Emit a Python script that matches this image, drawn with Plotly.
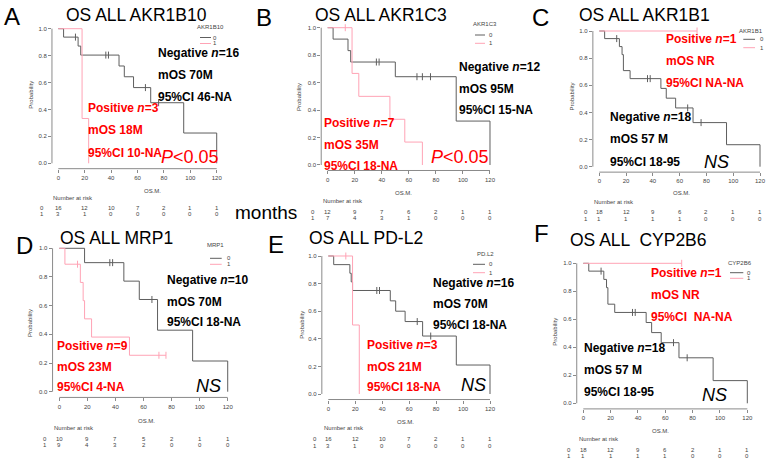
import plotly.graph_objects as go

W, H = 773, 465

# ------------------------------------------------------------------ data
risk_times = [0, 20, 40, 60, 80, 100, 120]
x_ticks = [0, 20, 40, 60, 80, 100, 120]
y_ticks = [0.0, 0.2, 0.4, 0.6, 0.8, 1.0]

# Panel A  AKR1B10
A_neg_t = [0, 4, 15, 17, 46, 50, 57, 70, 95, 120]
A_neg_s = [1.0, 0.9375, 0.871, 0.804, 0.723, 0.643, 0.5625, 0.45, 0.225, 0.0]
A_neg_c = [13, 36, 38, 66, 76]
A_pos_t = [0, 18, 23]
A_pos_s = [1.0, 0.333, 0.0]
A_pos_c = []
A_risk0 = [16, 12, 10, 7, 2, 1, 1]
A_risk1 = [3, 1, 0, 0, 0, 0, 0]

# Panel B  AKR1C3
B_neg_t = [0, 4, 15, 17, 50, 95, 120]
B_neg_s = [1.0, 0.917, 0.833, 0.75, 0.643, 0.32, 0.0]
B_neg_c = [36, 38, 66, 70, 76]
B_pos_t = [0, 18, 23, 46, 57, 70]
B_pos_s = [1.0, 0.667, 0.5, 0.333, 0.167, 0.0]
B_pos_c = [13]
B_risk0 = [12, 9, 7, 6, 2, 1, 1]
B_risk1 = [7, 4, 3, 1, 0, 0, 0]

# Panel C  AKR1B1
C_neg_t = [0, 4, 15, 17, 18, 23, 46, 50, 57, 70, 95, 120]
C_neg_s = [1.0, 0.944, 0.885, 0.826, 0.708, 0.649, 0.577, 0.505, 0.433, 0.325, 0.162, 0.0]
C_neg_c = [13, 36, 38, 66, 76]
C_pos_t = [0, 73]
C_pos_s = [1.0, 1.0]
C_pos_c = [73]
C_risk0 = [18, 12, 9, 6, 2, 1, 1]
C_risk1 = [1, 1, 1, 1, 0, 0, 0]

# Panel D  MRP1
D_neg_t = [0, 18, 46, 57, 70, 95, 120]
D_neg_s = [1.0, 0.9, 0.771, 0.643, 0.429, 0.214, 0.0]
D_neg_c = [36, 38, 66]
D_pos_t = [0, 4, 15, 17, 18, 23, 50, 76]
D_pos_s = [1.0, 0.889, 0.762, 0.635, 0.508, 0.381, 0.254, 0.254]
D_pos_c = [13, 71, 76]
D_risk0 = [10, 9, 7, 5, 2, 1, 1]
D_risk1 = [9, 4, 3, 2, 0, 0, 0]

# Panel E  PD-L2
E_neg_t = [0, 4, 16, 17, 18, 46, 50, 57, 70, 95, 120]
E_neg_s = [1.0, 0.9375, 0.875, 0.8125, 0.75, 0.675, 0.6, 0.525, 0.42, 0.21, 0.0]
E_neg_c = [36, 38, 66, 76]
E_pos_t = [0, 18, 23]
E_pos_s = [1.0, 0.5, 0.0]
E_pos_c = [13]
E_risk0 = [16, 12, 10, 7, 2, 1, 1]
E_risk1 = [3, 1, 0, 0, 0, 0, 0]

# Panel F  CYP2B6
F_neg_t = [0, 4, 15, 17, 18, 23, 46, 50, 57, 70, 95, 120]
F_neg_s = [1.0, 0.944, 0.885, 0.826, 0.708, 0.649, 0.577, 0.505, 0.433, 0.325, 0.162, 0.0]
F_neg_c = [13, 36, 38, 66, 76]
F_pos_t = [0, 72]
F_pos_s = [1.0, 1.0]
F_pos_c = [72]
F_risk0 = [18, 12, 9, 6, 2, 1, 1]
F_risk1 = [1, 1, 1, 1, 0, 0, 0]

titles = ["OS ALL AKR1B10", "OS ALL AKR1C3", "OS ALL AKR1B1",
          "OS ALL MRP1", "OS ALL PD-L2", "OS ALL \u00a0CYP2B6"]
letters = ["A", "B", "C", "D", "E", "F"]
legend_titles = ["AKR1B10", "AKR1C3", "AKR1B1", "MRP1", "PD.L2", "CYP2B6"]

A_neg_txt = ["Negative <i>n</i>=16", "mOS 70M", "95%CI 46-NA"]
A_pos_txt = ["Positive <i>n</i>=3", "mOS 18M", "95%CI 10-NA"]
B_neg_txt = ["Negative <i>n</i>=12", "mOS 95M", "95%CI 15-NA"]
B_pos_txt = ["Positive <i>n</i>=7", "mOS 35M", "95%CI 18-NA"]
C_neg_txt = ["Negative <i>n</i>=18", "mOS 57 M", "95%CI 18-95"]
C_pos_txt = ["Positive <i>n</i>=1", "mOS NR", "95%CI NA-NA"]
D_neg_txt = ["Negative <i>n</i>=10", "mOS 70M", "95%CI 18-NA"]
D_pos_txt = ["Positive <i>n</i>=9", "mOS 23M", "95%CI 4-NA"]
E_neg_txt = ["Negative <i>n</i>=16", "mOS 70M", "95%CI 18-NA"]
E_pos_txt = ["Positive <i>n</i>=3", "mOS 21M", "95%CI 18-NA"]
F_neg_txt = ["Negative <i>n</i>=18", "mOS 57 M", "95%CI 18-95"]
F_pos_txt = ["Positive <i>n</i>=1", "mOS NR", "95%CI \u00a0NA-NA"]
p_texts = ["<i>P</i>&lt;0.05", "<i>P</i>&lt;0.05", "<i>NS</i>", "<i>NS</i>", "<i>NS</i>", "<i>NS</i>"]

# ------------------------------------------------------------------ layout (pixels)
FONT = "Liberation Sans, Arial, sans-serif"
GRAY = "#5e5e5e"
PINK = "#ffa3b5"
AXC = "#8a8a8a"
TXT = "#444444"

panels = [
    dict(neg=(A_neg_t, A_neg_s, A_neg_c), pos=(A_pos_t, A_pos_s, A_pos_c), r0=A_risk0, r1=A_risk1,
         negtxt=A_neg_txt, postxt=A_pos_txt,
         g=dict(x0=58.3, x120=216.7, y1=28.7, y0=163.3),
         letter=(12, 16), title=(136, 15), negpos=(157, [53.3, 75, 96.7]), pospos=(86.7, [108.3, 130, 152.7]),
         ppos=(160, 157.3), leg=(211, 27, 200, 211, 215, 37.5, 43.5),
         osm=(152.7, 191), prob=(30.7, 95), nar=(51.7, 197.7), rows=(41.7, 208.3, 213.7)),
    dict(neg=(B_neg_t, B_neg_s, B_neg_c), pos=(B_pos_t, B_pos_s, B_pos_c), r0=B_risk0, r1=B_risk1,
         negtxt=B_neg_txt, postxt=B_pos_txt,
         g=dict(x0=327.7, x120=490, y1=27.7, y0=165),
         letter=(264, 17), title=(381, 15), negpos=(458.3, [66.7, 89.3, 110]), pospos=(323.3, [123.3, 145, 165.7]),
         ppos=(430, 157.3), leg=(485, 24, 475, 485, 491, 35, 43.3),
         osm=(403.3, 193.3), prob=(298.3, 96.7), nar=(321.7, 201), rows=(313.3, 211.7, 218.3)),
    dict(neg=(C_neg_t, C_neg_s, C_neg_c), pos=(C_pos_t, C_pos_s, C_pos_c), r0=C_risk0, r1=C_risk1,
         negtxt=C_neg_txt, postxt=C_pos_txt,
         g=dict(x0=599.3, x120=760, y1=31, y0=166.7),
         letter=(540, 18), title=(644, 15), negpos=(609.3, [117.3, 139.3, 162.3]), pospos=(665, [39.3, 61, 82.7]),
         ppos=(702.7, 162.3), leg=(750.7, 30.7, 743.3, 755, 761.7, 39.3, 47.7),
         osm=(681.7, 193.3), prob=(571.7, 96.7), nar=(593.3, 201.7), rows=(586, 212.3, 219)),
    dict(neg=(D_neg_t, D_neg_s, D_neg_c), pos=(D_pos_t, D_pos_s, D_pos_c), r0=D_risk0, r1=D_risk1,
         negtxt=D_neg_txt, postxt=D_pos_txt,
         g=dict(x0=59.3, x120=227.7, y1=248.3, y0=391.7),
         letter=(24, 245), title=(117, 238), negpos=(166, [280, 301.7, 321.7]), pospos=(56, [345.7, 366.7, 387.3]),
         ppos=(195, 386), leg=(215, 245, 210, 221.7, 229.3, 258.3, 264.3),
         osm=(146.7, 420.7), prob=(30.7, 323.3), nar=(53.3, 427.7), rows=(45, 439.3, 445)),
    dict(neg=(E_neg_t, E_neg_s, E_neg_c), pos=(E_pos_t, E_pos_s, E_pos_c), r0=E_risk0, r1=E_risk1,
         negtxt=E_neg_txt, postxt=E_pos_txt,
         g=dict(x0=328.3, x120=490, y1=256, y0=394),
         letter=(276, 244), title=(366, 238), negpos=(431.7, [282.7, 304, 325]), pospos=(366, [345, 366.7, 386.7]),
         ppos=(460, 385), leg=(485, 254, 473, 485, 491, 264.3, 272.7),
         osm=(405, 421.7), prob=(301.7, 325), nar=(323.3, 427.7), rows=(315, 439.3, 445.7)),
    dict(neg=(F_neg_t, F_neg_s, F_neg_c), pos=(F_pos_t, F_pos_s, F_pos_c), r0=F_risk0, r1=F_risk1,
         negtxt=F_neg_txt, postxt=F_pos_txt,
         g=dict(x0=583.3, x120=747.3, y1=263.3, y0=403.3),
         letter=(541, 234), title=(638, 240), negpos=(582.7, [348.3, 370, 392.3]), pospos=(650, [272.7, 295, 317.3]),
         ppos=(700.7, 395), leg=(740, 263.3, 730, 743.3, 749.3, 272.7, 278.3),
         osm=(660, 431), prob=(555, 331.7), nar=(578.3, 439.3), rows=(569.3, 450, 456)),
]


def px(x):
    return x / W


def py(y):
    return 1 - y / H


def step_at(t, times, surv):
    v = surv[0]
    for tt, ss in zip(times, surv):
        if tt <= t:
            v = ss
    return v


fig = go.Figure()
annotations = []
shapes = []
layout = dict(width=W, height=H, autosize=False, margin=dict(l=0, r=0, t=0, b=0),
              paper_bgcolor="white", plot_bgcolor="rgba(0,0,0,0)", showlegend=False,
              font=dict(family=FONT))


def ann(x, y, text, size, color="black", xanchor="left", **kw):
    d = dict(x=px(x), y=py(y), xref="paper", yref="paper", text=text, showarrow=False,
             font=dict(size=size, color=color, family=FONT), xanchor=xanchor, yanchor="middle",
             borderpad=0)
    d.update(kw)
    annotations.append(d)


for i, p in enumerate(panels):
    k = i + 1
    xa = "x" if k == 1 else f"x{k}"
    ya = "y" if k == 1 else f"y{k}"
    g = p["g"]
    sx = (g["x120"] - g["x0"]) / 120.0
    sy = (g["y0"] - g["y1"])
    xdom = [px(g["x0"] - 4.8 * sx), px(g["x120"] + 4.8 * sx)]
    ydom = [py(g["y0"] + 0.04 * sy), py(g["y1"] - 0.04 * sy)]
    axis_common = dict(showgrid=False, zeroline=False, showline=False, ticks="outside",
                       ticklen=3, tickwidth=1, tickcolor=AXC,
                       tickfont=dict(size=6, color=TXT, family=FONT), fixedrange=True)
    layout["xaxis" if k == 1 else f"xaxis{k}"] = dict(
        domain=xdom, range=[-4.8, 124.8], anchor=ya, tickmode="array", tickvals=x_ticks, **axis_common)
    layout["yaxis" if k == 1 else f"yaxis{k}"] = dict(
        domain=ydom, range=[-0.04, 1.04], anchor=xa, tickmode="array", tickvals=y_ticks,
        tickformat=".1f", **axis_common)
    # axis lines spanning tick range (R style)
    shapes.append(dict(type="line", xref=xa, yref=f"{ya} domain", x0=0, x1=120, y0=0, y1=0,
                       line=dict(color=AXC, width=1)))
    shapes.append(dict(type="line", xref=f"{xa} domain", yref=ya, x0=0, x1=0, y0=0, y1=1,
                       line=dict(color=AXC, width=1)))

    for key, col in (("neg", GRAY), ("pos", PINK)):
        t, s, c = p[key]
        fig.add_trace(go.Scatter(x=t, y=s, mode="lines", line=dict(color=col, width=1, shape="hv"),
                                 xaxis=xa, yaxis=ya, hoverinfo="skip"))
        if c:
            fig.add_trace(go.Scatter(x=c, y=[step_at(ct, t, s) for ct in c], mode="markers",
                                     marker=dict(symbol="line-ns", size=5, line=dict(color=col, width=1)),
                                     xaxis=xa, yaxis=ya, hoverinfo="skip"))

    # panel letter and title
    ann(p["letter"][0], p["letter"][1], letters[i], 24, "black", xanchor="center")
    ann(p["title"][0], p["title"][1], titles[i], 17.5, "black", xanchor="center")

    # group texts
    nx, nys = p["negpos"]
    for txt, yy in zip(p["negtxt"], nys):
        ann(nx, yy, f"<b>{txt}</b>", 12, "black")
    qx, qys = p["pospos"]
    for txt, yy in zip(p["postxt"], qys):
        ann(qx, yy, f"<b>{txt}</b>", 12, "#ff0000")
    pcol = "#ff0000" if i < 2 else "black"
    ann(p["ppos"][0], p["ppos"][1], p_texts[i], 18, pcol)

    # legend
    lt_x, lt_y, l0, l1, lx, r0y, r1y = p["leg"]
    ann(lt_x, lt_y, legend_titles[i], 6, TXT, xanchor="center")
    for ry, col, lab in ((r0y, GRAY, "0"), (r1y, PINK, "1")):
        shapes.append(dict(type="line", xref="paper", yref="paper", x0=px(l0), x1=px(l1),
                           y0=py(ry), y1=py(ry), line=dict(color=col, width=1)))
        ann(lx, ry, lab, 6, TXT, xanchor="center")

    # axis titles
    ann(p["osm"][0], p["osm"][1], "OS.M.", 6, TXT, xanchor="center")
    ann(p["prob"][0], p["prob"][1], "Probability", 6, TXT, xanchor="center", textangle=-90)

    # number at risk
    ann(p["nar"][0], p["nar"][1], "Number at risk", 6, TXT)
    rlx, ry0, ry1 = p["rows"]
    ann(rlx, ry0, "0", 6, TXT, xanchor="center")
    ann(rlx, ry1, "1", 6, TXT, xanchor="center")
    for tt, v0, v1 in zip(risk_times, p["r0"], p["r1"]):
        annotations.append(dict(x=tt, xref=xa, y=py(ry0), yref="paper", text=str(v0), showarrow=False,
                                font=dict(size=6, color=TXT, family=FONT), xanchor="center",
                                yanchor="middle", borderpad=0))
        annotations.append(dict(x=tt, xref=xa, y=py(ry1), yref="paper", text=str(v1), showarrow=False,
                                font=dict(size=6, color=TXT, family=FONT), xanchor="center",
                                yanchor="middle", borderpad=0))

ann(266, 213, "months", 19, "black", xanchor="center")

layout["annotations"] = annotations
layout["shapes"] = shapes
fig.update_layout(**layout)
fig.write_html("out.html")
